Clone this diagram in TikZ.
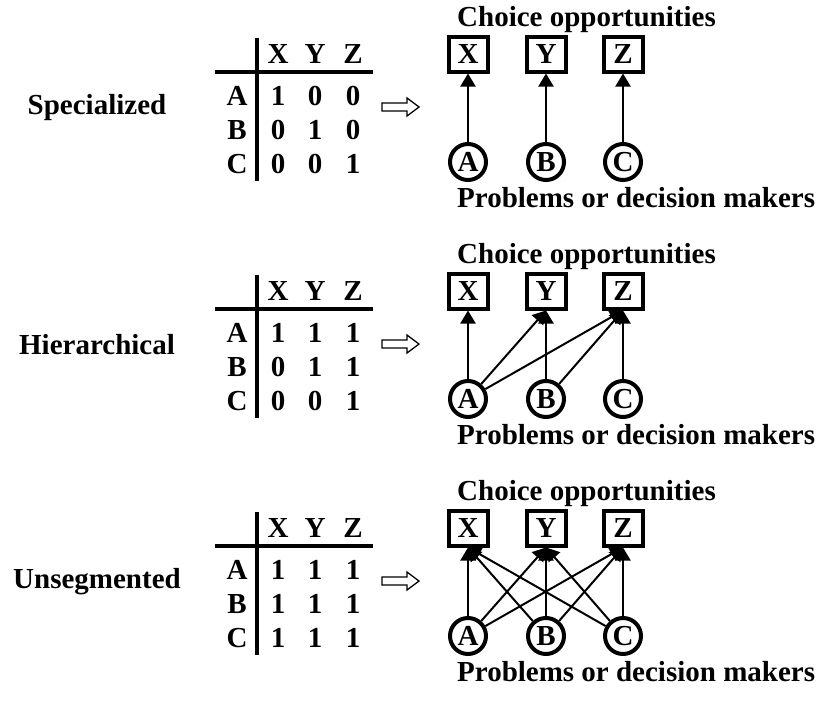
\documentclass[tikz,border=0pt]{standalone}
\usepackage{fontspec}
\setmainfont{Liberation Serif}
\usetikzlibrary{arrows.meta}

\begin{document}
\begin{tikzpicture}[x=1pt, y=-1pt,
  every node/.style={font=\bfseries\fontsize{29}{32}\selectfont, inner sep=0pt},
  opp/.style={draw, line width=4pt, minimum width=39pt, minimum height=35pt},
  prob/.style={draw, circle, line width=4pt, minimum size=36pt},
  link/.style={line width=2pt, -{Triangle[width=15pt,length=13pt]}},
  rule/.style={line width=4pt},
  imply/.style={draw, line width=1.3pt, line join=miter}
]
\useasboundingbox (0,0) rectangle (820,704);

% Specialized
\node (sName) at (97,108) {Specialized};
\coordinate (sV1) at (257,38);  \coordinate (sV2) at (257,181);
\coordinate (sH1) at (215,72);  \coordinate (sH2) at (373,72);
\draw[rule] (sV1) -- (sV2);
\draw[rule] (sH1) -- (sH2);
\foreach \c/\x in {X/278,Y/315,Z/353}
  \node (s\c h) at (\x,54) {\c};
\foreach \r/\a/\b/\c [count=\i] in {A/1/0/0,B/0/1/0,C/0/0/1} {
  \node (s\r-0) at (237,62+34*\i) {\r};
  \node (s\r-1) at (278,62+34*\i) {\a};
  \node (s\r-2) at (315,62+34*\i) {\b};
  \node (s\r-3) at (353,62+34*\i) {\c};
}
\coordinate (sImp) at (400,107);
\draw[imply] ([shift={(-18,-4)}]sImp) -- ++(25,0) -- ++(0,-5) -- ++(12,9)
  -- ++(-12,9) -- ++(0,-5) -- ++(-25,0) -- cycle;
% graph
\node[anchor=west] (sCO) at (457,20) {Choice opportunities};
\foreach \n/\x in {X/468,Y/546,Z/623}
  \node[opp] (s\n) at (\x,54) {\n};
\foreach \n/\x in {A/468,B/546,C/623}
  \node[prob] (s\n) at (\x,162) {\n};
\node[anchor=west] (sPD) at (457,198) {Problems or decision makers};
\foreach \f/\t in {A/X,B/Y,C/Z}
  \draw[link] (s\f) -- (s\t.south);

% Hierarchical
\begin{scope}[yshift=-237pt]
\node (hName) at (97,108) {Hierarchical};
\coordinate (hV1) at (257,38);  \coordinate (hV2) at (257,181);
\coordinate (hH1) at (215,72);  \coordinate (hH2) at (373,72);
\draw[rule] (hV1) -- (hV2);
\draw[rule] (hH1) -- (hH2);
\foreach \c/\x in {X/278,Y/315,Z/353}
  \node (h\c h) at (\x,54) {\c};
\foreach \r/\a/\b/\c [count=\i] in {A/1/1/1,B/0/1/1,C/0/0/1} {
  \node (h\r-0) at (237,62+34*\i) {\r};
  \node (h\r-1) at (278,62+34*\i) {\a};
  \node (h\r-2) at (315,62+34*\i) {\b};
  \node (h\r-3) at (353,62+34*\i) {\c};
}
\coordinate (hImp) at (400,107);
\draw[imply] ([shift={(-18,-4)}]hImp) -- ++(25,0) -- ++(0,-5) -- ++(12,9)
  -- ++(-12,9) -- ++(0,-5) -- ++(-25,0) -- cycle;
% graph
\node[anchor=west] (hCO) at (457,20) {Choice opportunities};
\foreach \n/\x in {X/468,Y/546,Z/623}
  \node[opp] (h\n) at (\x,54) {\n};
\foreach \n/\x in {A/468,B/546,C/623}
  \node[prob] (h\n) at (\x,162) {\n};
\node[anchor=west] (hPD) at (457,198) {Problems or decision makers};
\foreach \f/\t in {A/X,A/Y,A/Z,B/Y,B/Z,C/Z}
  \draw[link] (h\f) -- (h\t.south);
\end{scope}

% Unsegmented
\begin{scope}[yshift=-474pt]
\node (uName) at (97,108) {Unsegmented};
\coordinate (uV1) at (257,38);  \coordinate (uV2) at (257,181);
\coordinate (uH1) at (215,72);  \coordinate (uH2) at (373,72);
\draw[rule] (uV1) -- (uV2);
\draw[rule] (uH1) -- (uH2);
\foreach \c/\x in {X/278,Y/315,Z/353}
  \node (u\c h) at (\x,54) {\c};
\foreach \r/\a/\b/\c [count=\i] in {A/1/1/1,B/1/1/1,C/1/1/1} {
  \node (u\r-0) at (237,62+34*\i) {\r};
  \node (u\r-1) at (278,62+34*\i) {\a};
  \node (u\r-2) at (315,62+34*\i) {\b};
  \node (u\r-3) at (353,62+34*\i) {\c};
}
\coordinate (uImp) at (400,107);
\draw[imply] ([shift={(-18,-4)}]uImp) -- ++(25,0) -- ++(0,-5) -- ++(12,9)
  -- ++(-12,9) -- ++(0,-5) -- ++(-25,0) -- cycle;
% graph
\node[anchor=west] (uCO) at (457,20) {Choice opportunities};
\foreach \n/\x in {X/468,Y/546,Z/623}
  \node[opp] (u\n) at (\x,54) {\n};
\foreach \n/\x in {A/468,B/546,C/623}
  \node[prob] (u\n) at (\x,162) {\n};
\node[anchor=west] (uPD) at (457,198) {Problems or decision makers};
\foreach \f in {A,B,C}
  \foreach \t in {X,Y,Z}
    \draw[link] (u\f) -- (u\t.south);
\end{scope}
\end{tikzpicture}
\end{document}
